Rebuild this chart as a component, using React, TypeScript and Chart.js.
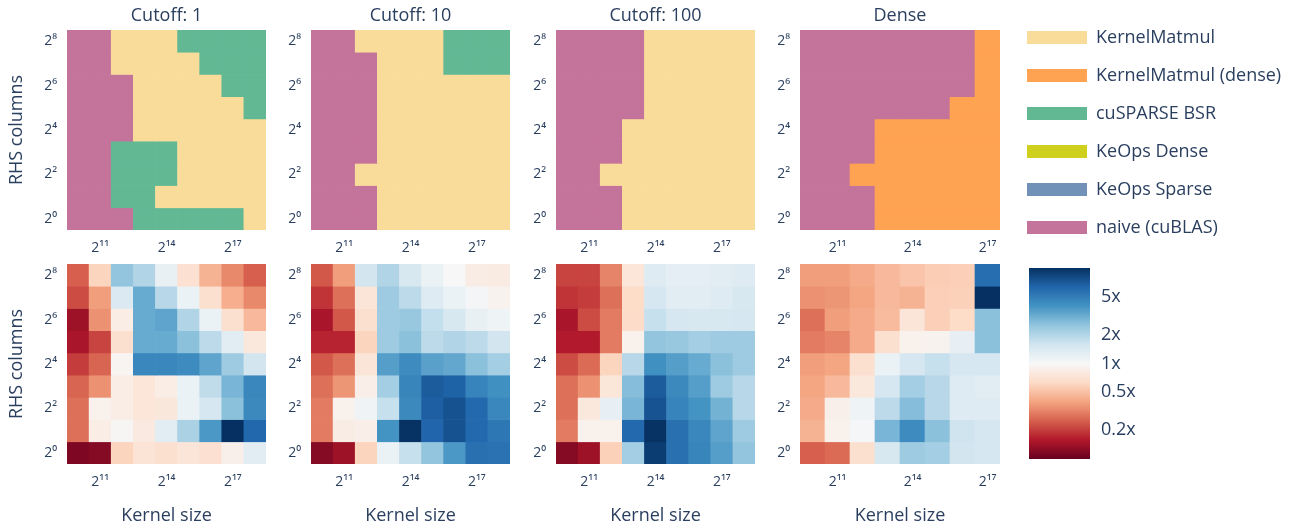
import React, { useEffect, useRef } from 'react';
import { Chart, registerables } from 'chart.js';

Chart.register(...registerables);

const FONT = '"Open Sans", verdana, arial, sans-serif';
const TEXT = '#2a3f5f';

// ---------- categories ----------
const METHODS = ['KernelMatmul', 'KernelMatmul (dense)', 'cuSPARSE BSR', 'KeOps Dense', 'KeOps Sparse', 'naive (cuBLAS)'];
const METHOD_COLORS = ['#f9dc9a', '#fea352', '#63b894', '#cfd01d', '#7191b8', '#c4739b'];

const PANEL_TITLES = ['Cutoff: 1', 'Cutoff: 10', 'Cutoff: 100', 'Dense'];
const KERNEL_SIZES = ['2^10', '2^11', '2^12', '2^13', '2^14', '2^15', '2^16', '2^17', '2^18'];
const KERNEL_SIZES_DENSE = ['2^10', '2^11', '2^12', '2^13', '2^14', '2^15', '2^16', '2^17'];
const RHS_COLUMNS = ['2^0', '2^1', '2^2', '2^3', '2^4', '2^5', '2^6', '2^7', '2^8'];

const X_TICK_INDEX = [1, 4, 7];
const X_TICK_LABELS = ['2¹¹', '2¹⁴', '2¹⁷'];
const Y_TICK_INDEX = [0, 2, 4, 6, 8];
const Y_TICK_LABELS = ['2⁰', '2²', '2⁴', '2⁶', '2⁸'];

const CB_MIN = 0.1;
const CB_MAX = 10;
const CB_TICKS = [0.2, 0.5, 1, 2, 5];
const CB_TICK_LABELS = ['0.2x', '0.5x', '1x', '2x', '5x'];
const RDBU = ['#67001f', '#b2182b', '#d6604d', '#f4a582', '#fddbc7', '#f7f7f7', '#d1e5f0', '#92c5de', '#4393c3', '#2166ac', '#053061'];

// method indices
const K = 0; // KernelMatmul
const D = 1; // KernelMatmul (dense)
const B = 2; // cuSPARSE BSR
const N = 5; // naive (cuBLAS)

// ---------- best method (rows: RHS columns 2^0 .. 2^8) ----------
const BEST_CUTOFF_1 = [
  [N, N, N, B, B, B, B, B, K],
  [N, N, B, B, K, K, K, K, K],
  [N, N, B, B, B, K, K, K, K],
  [N, N, B, B, B, K, K, K, K],
  [N, N, N, K, K, K, K, K, K],
  [N, N, N, K, K, K, K, K, B],
  [N, N, N, K, K, K, K, B, B],
  [N, N, K, K, K, K, B, B, B],
  [N, N, K, K, K, B, B, B, B],
];
const BEST_CUTOFF_10 = [
  [N, N, N, K, K, K, K, K, K],
  [N, N, N, K, K, K, K, K, K],
  [N, N, K, K, K, K, K, K, K],
  [N, N, N, K, K, K, K, K, K],
  [N, N, N, K, K, K, K, K, K],
  [N, N, N, K, K, K, K, K, K],
  [N, N, N, K, K, K, K, K, K],
  [N, N, N, K, K, K, B, B, B],
  [N, N, K, K, K, K, B, B, B],
];
const BEST_CUTOFF_100 = [
  [N, N, N, K, K, K, K, K, K],
  [N, N, N, K, K, K, K, K, K],
  [N, N, K, K, K, K, K, K, K],
  [N, N, N, K, K, K, K, K, K],
  [N, N, N, K, K, K, K, K, K],
  [N, N, N, N, K, K, K, K, K],
  [N, N, N, N, K, K, K, K, K],
  [N, N, N, N, K, K, K, K, K],
  [N, N, N, N, K, K, K, K, K],
];
const BEST_DENSE = [
  [N, N, N, D, D, D, D, D],
  [N, N, N, D, D, D, D, D],
  [N, N, D, D, D, D, D, D],
  [N, N, N, D, D, D, D, D],
  [N, N, N, D, D, D, D, D],
  [N, N, N, N, N, N, D, D],
  [N, N, N, N, N, N, N, D],
  [N, N, N, N, N, N, N, D],
  [N, N, N, N, N, N, N, D],
];

// ---------- speedup (rows: RHS columns 2^0 .. 2^8) ----------
const SPEEDUP_CUTOFF_1 = [
  [0.115, 0.12, 0.6, 0.72, 0.68, 0.74, 0.7, 0.88, 1.3],
  [0.28, 0.85, 0.97, 0.8, 1.3, 2.1, 3.8, 10, 6.2],
  [0.28, 0.9, 0.85, 0.75, 0.77, 1.15, 1.5, 2.6, 4.4],
  [0.26, 0.35, 0.85, 0.75, 0.85, 1.15, 1.8, 2.9, 4.5],
  [0.2, 0.26, 0.95, 4.5, 4.5, 4.3, 3.4, 2.3, 1.55],
  [0.15, 0.21, 0.68, 3.2, 3.2, 2.6, 1.85, 1.3, 0.78],
  [0.14, 0.35, 0.85, 3.2, 3.4, 2.0, 1.15, 0.68, 0.47],
  [0.22, 0.38, 1.4, 3.2, 1.9, 1.15, 0.68, 0.43, 0.33],
  [0.25, 0.6, 2.5, 2.0, 1.2, 0.7, 0.45, 0.33, 0.25],
];
const SPEEDUP_CUTOFF_10 = [
  [0.12, 0.14, 0.6, 1.15, 1.7, 2.5, 3.8, 5.7, 5.6],
  [0.3, 0.83, 0.87, 4.0, 9.8, 6.3, 7.5, 6.1, 5.3],
  [0.3, 0.9, 1.1, 1.7, 4.4, 6.7, 7.5, 6.1, 4.5],
  [0.28, 0.36, 0.87, 2.2, 4.6, 6.9, 6.5, 4.7, 4.1],
  [0.24, 0.28, 0.74, 3.6, 4.3, 3.5, 3.3, 2.6, 2.2],
  [0.17, 0.17, 0.6, 2.3, 2.6, 1.85, 2.0, 1.85, 1.55],
  [0.15, 0.24, 0.68, 2.3, 2.4, 1.75, 1.45, 1.2, 1.12],
  [0.19, 0.28, 0.74, 2.3, 1.85, 1.35, 1.15, 1.05, 0.92],
  [0.24, 0.38, 1.55, 2.0, 1.45, 1.15, 1.0, 0.83, 0.82],
];
const SPEEDUP_CUTOFF_100 = [
  [0.12, 0.14, 0.58, 2.2, 9.0, 5.7, 4.6, 3.6, 2.5],
  [0.3, 0.9, 0.9, 6.1, 9.8, 5.7, 4.5, 3.4, 2.3],
  [0.28, 0.78, 1.22, 2.9, 7.4, 4.7, 4.0, 3.0, 1.9],
  [0.28, 0.35, 0.76, 2.7, 6.9, 4.4, 3.6, 2.3, 1.9],
  [0.22, 0.27, 0.6, 1.9, 4.1, 3.6, 3.2, 2.6, 2.3],
  [0.16, 0.16, 0.3, 0.9, 2.5, 2.4, 2.2, 2.3, 2.3],
  [0.15, 0.22, 0.3, 0.65, 1.7, 1.5, 1.45, 1.45, 1.5],
  [0.19, 0.2, 0.28, 0.64, 1.5, 1.3, 1.3, 1.35, 1.45],
  [0.21, 0.21, 0.32, 0.75, 1.35, 1.25, 1.25, 1.3, 1.35],
];
const SPEEDUP_DENSE = [
  [0.25, 0.27, 0.68, 1.45, 2.3, 2.2, 1.55, 1.5],
  [0.45, 0.9, 1.03, 2.9, 4.3, 2.6, 1.6, 1.5],
  [0.42, 0.88, 1.12, 1.85, 2.7, 1.9, 1.35, 1.35],
  [0.4, 0.47, 0.78, 1.5, 2.2, 1.9, 1.35, 1.3],
  [0.38, 0.4, 0.68, 1.15, 1.5, 1.7, 1.5, 1.5],
  [0.3, 0.32, 0.42, 0.68, 0.9, 0.92, 1.22, 2.6],
  [0.28, 0.38, 0.42, 0.48, 0.74, 0.57, 0.64, 2.6],
  [0.35, 0.36, 0.4, 0.47, 0.45, 0.57, 0.58, 10],
  [0.38, 0.38, 0.42, 0.47, 0.52, 0.56, 0.57, 5.8],
];

const BEST_GRIDS = [BEST_CUTOFF_1, BEST_CUTOFF_10, BEST_CUTOFF_100, BEST_DENSE];
const SPEEDUP_GRIDS = [SPEEDUP_CUTOFF_1, SPEEDUP_CUTOFF_10, SPEEDUP_CUTOFF_100, SPEEDUP_DENSE];
const PANEL_KERNELS = [KERNEL_SIZES, KERNEL_SIZES, KERNEL_SIZES, KERNEL_SIZES_DENSE];

// ---------- layout ----------
const PLOT_LEFT = [67, 311, 556, 800];
const PLOT_W = [199, 199, 199, 200];
const Y_AXIS_W = 67;

function hexToRgb(h: string) {
  const n = parseInt(h.slice(1), 16);
  return [n >> 16, (n >> 8) & 255, n & 255];
}
function rdbu(v: number) {
  let t = (Math.log10(v) - Math.log10(CB_MIN)) / (Math.log10(CB_MAX) - Math.log10(CB_MIN));
  t = Math.max(0, Math.min(1, t));
  const s = t * (RDBU.length - 1);
  const i = Math.min(Math.floor(s), RDBU.length - 2);
  const f = s - i;
  const a = hexToRgb(RDBU[i]);
  const b = hexToRgb(RDBU[i + 1]);
  return `rgb(${a.map((x, k) => Math.round(x + (b[k] - x) * f)).join(',')})`;
}

function heatmapConfig(o: {
  grid: number[][];
  kernels: string[];
  color: (v: number) => string;
  title?: string;
  yTitle: boolean;
  xTitle: boolean;
  padTop: number;
  xAxisH: number;
}): any {
  const data: any[] = [];
  const colors: string[] = [];
  o.grid.forEach((row, r) =>
    row.forEach((v, c) => {
      data.push({ x: c, y: [r - 0.5, r + 0.5] });
      colors.push(o.color(v));
    })
  );
  const nCols = o.kernels.length;
  const nRows = RHS_COLUMNS.length;
  return {
    type: 'bar',
    data: {
      datasets: [
        { data, backgroundColor: colors, borderWidth: 0, barPercentage: 1, categoryPercentage: 1 },
      ],
    },
    options: {
      responsive: false,
      animation: false,
      events: [],
      layout: { padding: { top: o.padTop, left: 0, right: 0, bottom: 0 } },
      plugins: {
        legend: { display: false },
        tooltip: { enabled: false },
        title: {
          display: !!o.title,
          text: o.title ?? '',
          fullSize: false,
          color: TEXT,
          font: { family: FONT, size: 18, weight: 'normal' },
          padding: { top: 4.9, bottom: 3.5 },
        },
      },
      scales: {
        x: {
          type: 'linear',
          min: -0.5,
          max: nCols - 0.5,
          offset: false,
          grid: { display: false },
          border: { display: false },
          afterBuildTicks: (s: any) => {
            s.ticks = X_TICK_INDEX.map((value) => ({ value }));
          },
          afterFit: (s: any) => {
            s.height = o.xAxisH;
          },
          ticks: {
            autoSkip: false,
            maxRotation: 0,
            padding: 2,
            color: TEXT,
            font: { family: FONT, size: 14 },
            callback: (v: any) => X_TICK_LABELS[X_TICK_INDEX.indexOf(Number(v))] ?? '',
          },
          title: {
            display: o.xTitle,
            text: 'Kernel size',
            color: TEXT,
            font: { family: FONT, size: 18 },
            padding: { top: 0, bottom: 0.5 },
          },
        },
        y: {
          type: 'linear',
          min: -0.5,
          max: nRows - 0.5,
          beginAtZero: false,
          grid: { display: false },
          border: { display: false },
          afterBuildTicks: (s: any) => {
            s.ticks = Y_TICK_INDEX.map((value) => ({ value }));
          },
          afterFit: (s: any) => {
            s.width = Y_AXIS_W;
          },
          ticks: {
            autoSkip: false,
            padding: 2,
            color: TEXT,
            font: { family: FONT, size: 14 },
            callback: (v: any) => Y_TICK_LABELS[Y_TICK_INDEX.indexOf(Number(v))] ?? '',
          },
          title: {
            display: o.yTitle,
            text: 'RHS columns',
            color: TEXT,
            font: { family: FONT, size: 18 },
            padding: { top: 6, bottom: 0 },
          },
        },
      },
    },
  };
}

function colorbarConfig(): any {
  return {
    type: 'bar',
    data: {
      labels: ['speedup'],
      datasets: [
        {
          data: [[CB_MIN, CB_MAX]],
          backgroundColor: (ctx: any) => {
            const chart = ctx.chart;
            const a = chart.chartArea;
            if (!a) return RDBU[5];
            const g = chart.ctx.createLinearGradient(0, a.bottom, 0, a.top);
            RDBU.forEach((c, i) => g.addColorStop(i / (RDBU.length - 1), c));
            return g;
          },
          borderWidth: 0,
          barPercentage: 1,
          categoryPercentage: 1,
        },
      ],
    },
    options: {
      responsive: false,
      animation: false,
      events: [],
      layout: { padding: { left: 9, top: 18, bottom: 18, right: 0 } },
      plugins: { legend: { display: false }, tooltip: { enabled: false } },
      scales: {
        x: { display: false },
        y: {
          type: 'logarithmic',
          position: 'right',
          min: CB_MIN,
          max: CB_MAX,
          grid: { display: false },
          border: { display: false },
          afterBuildTicks: (s: any) => {
            s.ticks = CB_TICKS.map((value) => ({ value }));
          },
          afterFit: (s: any) => {
            s.width = 202;
          },
          ticks: {
            padding: 3,
            color: TEXT,
            font: { family: FONT, size: 18 },
            callback: (v: any) => CB_TICK_LABELS[CB_TICKS.indexOf(Number(v))] ?? '',
          },
        },
      },
    },
  };
}

function legendConfig(): any {
  return {
    type: 'bar',
    data: {
      labels: [],
      datasets: METHODS.map((m, i) => ({ label: m, data: [], backgroundColor: METHOD_COLORS[i], borderWidth: 0 })),
    },
    options: {
      responsive: false,
      animation: false,
      events: [],
      layout: { padding: { top: 8.5, left: 0, right: 0, bottom: 0 } },
      scales: { x: { display: false }, y: { display: false } },
      plugins: {
        tooltip: { enabled: false },
        legend: {
          position: 'left',
          align: 'start',
          maxWidth: 285,
          labels: {
            boxWidth: 60,
            boxHeight: 13,
            padding: 20,
            color: TEXT,
            font: { family: FONT, size: 18 },
          },
        },
      },
    },
  };
}

function ChartCanvas(props: { left: number; top: number; width: number; height: number; make: () => any }) {
  const ref = useRef<HTMLCanvasElement>(null);
  useEffect(() => {
    const chart = new Chart(ref.current as HTMLCanvasElement, props.make());
    return () => chart.destroy();
  }, []);
  return (
    <canvas
      ref={ref}
      width={props.width}
      height={props.height}
      style={{ position: 'absolute', left: props.left, top: props.top, width: props.width, height: props.height }}
    />
  );
}

export default function App() {
  return (
    <div style={{ position: 'absolute', left: 0, top: 0, width: 1292, height: 527, background: '#ffffff', overflow: 'hidden' }}>
      {BEST_GRIDS.map((g, i) => (
        <ChartCanvas
          key={'best' + i}
          left={PLOT_LEFT[i] - Y_AXIS_W}
          top={0}
          width={Y_AXIS_W + PLOT_W[i]}
          height={260}
          make={() =>
            heatmapConfig({
              grid: g,
              kernels: PANEL_KERNELS[i],
              color: (v) => METHOD_COLORS[v],
              title: PANEL_TITLES[i],
              yTitle: i === 0,
              xTitle: false,
              padTop: 0,
              xAxisH: 30,
            })
          }
        />
      ))}
      {SPEEDUP_GRIDS.map((g, i) => (
        <ChartCanvas
          key={'speed' + i}
          left={PLOT_LEFT[i] - Y_AXIS_W}
          top={240}
          width={Y_AXIS_W + PLOT_W[i]}
          height={287}
          make={() =>
            heatmapConfig({
              grid: g,
              kernels: PANEL_KERNELS[i],
              color: rdbu,
              yTitle: i === 0,
              xTitle: true,
              padTop: 24,
              xAxisH: 63,
            })
          }
        />
      ))}
      <ChartCanvas left={1007} top={0} width={285} height={270} make={legendConfig} />
      <ChartCanvas left={1020} top={250} width={272} height={227} make={colorbarConfig} />
    </div>
  );
}
